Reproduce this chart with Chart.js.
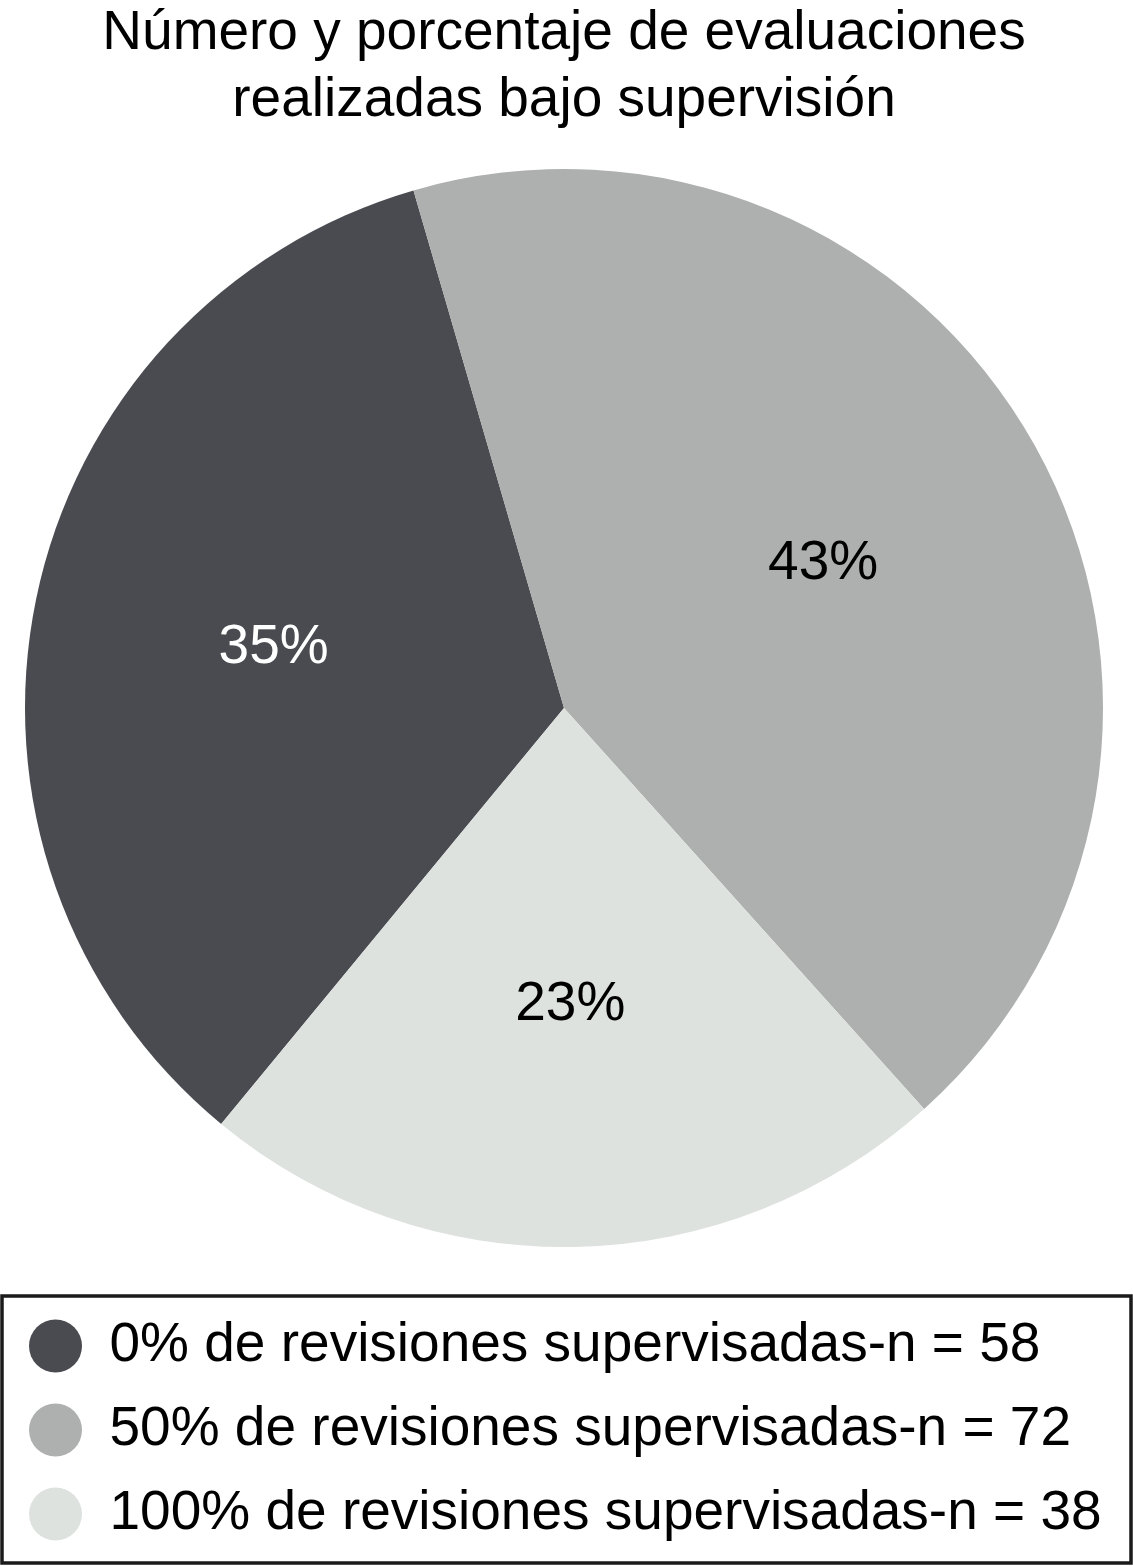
<!DOCTYPE html>
<html>
<head>
<meta charset="utf-8">
<script src="https://cdn.jsdelivr.net/npm/chart.js@4.4.1/dist/chart.umd.min.js"></script>
<style>
  html, body { margin: 0; padding: 0; background: #ffffff; }
  canvas { display: block; }
</style>
</head>
<body>
<canvas id="c" width="1133" height="1566"></canvas>
<script>
const titleLines = ['Número y porcentaje de evaluaciones', 'realizadas bajo supervisión'];
const categories = ['0% de revisiones supervisadas', '50% de revisiones supervisadas', '100% de revisiones supervisadas'];
const counts = [58, 72, 38];
const sliceColors = ['#4a4b50', '#adb0ae', '#dde2df'];
const labelColors = ['#ffffff', '#000000', '#000000'];

const FONT = "'Liberation Sans', Arial, Helvetica, sans-serif";
const total = counts.reduce((a, b) => a + b, 0);

const pctLabels = {
  id: 'pctLabels',
  afterDatasetsDraw(chart) {
    const ctx = chart.ctx;
    const meta = chart.getDatasetMeta(0);
    ctx.save();
    ctx.font = '55px ' + FONT;
    ctx.textAlign = 'center';
    ctx.textBaseline = 'middle';
    meta.data.forEach((arc, i) => {
      const p = arc.getProps(['x', 'y', 'startAngle', 'endAngle', 'outerRadius']);
      const mid = (p.startAngle + p.endAngle) / 2;
      const r = p.outerRadius * 0.55;
      const pct = Math.round(counts[i] / total * 100) + '%';
      ctx.fillStyle = labelColors[i];
      ctx.fillText(pct, p.x + Math.cos(mid) * r, p.y + Math.sin(mid) * r);
    });
    ctx.restore();
  }
};

const legendBorder = {
  id: 'legendBorder',
  afterDraw(chart) {
    const lg = chart.legend;
    const ctx = chart.ctx;
    ctx.save();
    ctx.strokeStyle = '#1a1a1a';
    ctx.lineWidth = 3.5;
    const top = lg.top + 49;
    const bottom = chart.height - 3;
    ctx.strokeRect(2, top, chart.width - 4, bottom - top);
    ctx.restore();
  }
};

new Chart(document.getElementById('c'), {
  type: 'pie',
  data: {
    labels: categories.map((c, i) => c + '-n = ' + counts[i]),
    datasets: [{
      data: counts,
      backgroundColor: sliceColors,
      borderWidth: 0
    }]
  },
  options: {
    responsive: false,
    animation: false,
    rotation: -140.5,
    layout: { padding: { top: 0, left: 0, right: 5, bottom: 14.5 } },
    plugins: {
      title: {
        display: true,
        text: titleLines,
        color: '#000000',
        font: { family: FONT, size: 55, weight: 'normal', lineHeight: 67 / 55 },
        padding: { top: 0, bottom: 35 }
      },
      legend: {
        display: true,
        position: 'bottom',
        align: 'start',
        title: {
          display: true,
          text: ' ',
          color: 'rgba(0,0,0,0)',
          font: { size: 12, lineHeight: 1 },
          padding: 15.25
        },
        labels: {
          usePointStyle: true,
          pointStyle: 'circle',
          pointStyleWidth: 53,
          boxHeight: 37.5,
          padding: 29,
          color: '#000000',
          font: { family: FONT, size: 55 }
        }
      },
      tooltip: { enabled: false }
    }
  },
  plugins: [pctLabels, legendBorder]
});
</script>
</body>
</html>
